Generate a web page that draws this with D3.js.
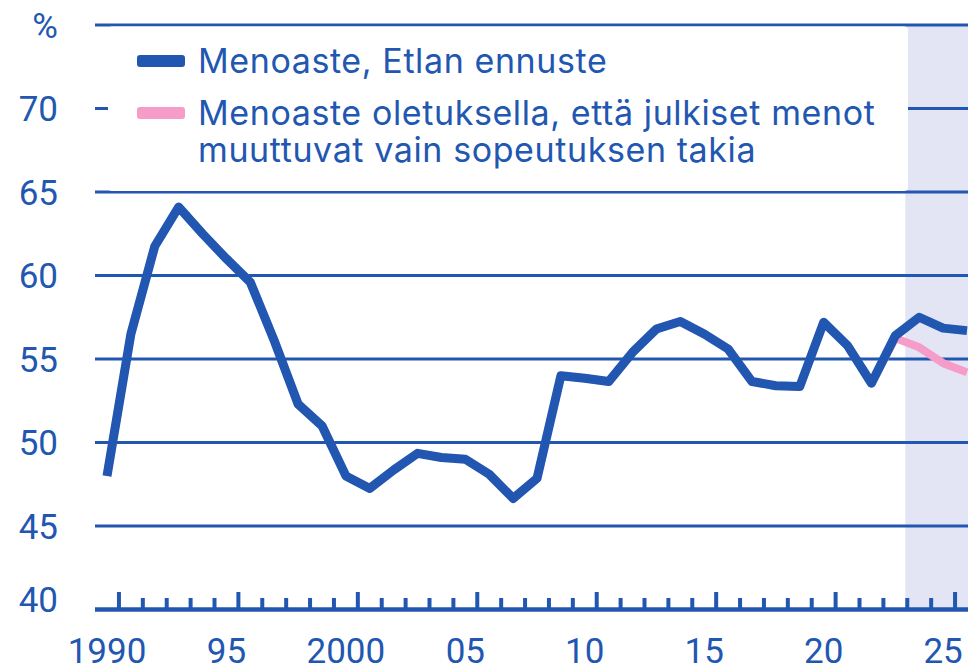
<!DOCTYPE html>
<html>
<head>
<meta charset="utf-8">
<script src="https://cdn.jsdelivr.net/npm/d3@7"></script>
<style>
  body { margin: 0; background: #fff; }
  text { font-family: Roboto, "Noto Sans", sans-serif; fill: #2257b1; }
  .legend text { font-family: Inter, Roboto, sans-serif; letter-spacing: 0.6px; }
</style>
</head>
<body>
<div class="chart"></div>
<script>
// years shown
const years = d3.range(1990, 2027);

// expenditure ratio, Etla forecast (% of GDP)
const menoaste = [48.0, 56.5, 61.75, 64.1, 62.5, 61.0, 59.6, 56.1, 52.3, 51.0,
  48.0, 47.25, 48.35, 49.35, 49.1, 49.0, 48.1, 46.65, 47.85, 54.0,
  53.85, 53.65, 55.4, 56.8, 57.25, 56.5, 55.6, 53.65, 53.4, 53.35,
  57.2, 55.8, 53.55, 56.4, 57.5, 56.85, 56.7];

// expenditure ratio if spending only changes by adjustment
const oletus = [48.0, 56.5, 61.75, 64.1, 62.5, 61.0, 59.6, 56.1, 52.3, 51.0,
  48.0, 47.25, 48.35, 49.35, 49.1, 49.0, 48.1, 46.65, 47.85, 54.0,
  53.85, 53.65, 55.4, 56.8, 57.25, 56.5, 55.6, 53.65, 53.4, 53.35,
  57.2, 55.8, 53.55, 56.25, 55.7, 54.75, 54.2];

const yTicks = [40, 45, 50, 55, 60, 65, 70, 75];
const xLabels = ["1990", "95", "2000", "05", "10", "15", "20", "25"];
const forecastStart = 2023.5;

const legendItems = [
  {color: "#2257b1", lines: ["Menoaste, Etlan ennuste"]},
  {color: "#f59cc8", lines: ["Menoaste oletuksella, että julkiset menot", "muuttuvat vain sopeutuksen takia"]}
];

const width = 968, height = 668;
const blue = "#2257b1";

const svg = d3.select('.chart')
  .append('svg')
  .attr('width', width)
  .attr('height', height);

const x = d3.scaleLinear().domain([1990, 2026]).range([107, 967]);
const y = d3.scaleLinear().domain([40, 75]).range([609.5, 25]);

// forecast shading
svg.append('rect')
  .attr('x', x(forecastStart) - 2)
  .attr('y', y(75))
  .attr('width', width - x(forecastStart) + 2)
  .attr('height', y(40) - y(75))
  .attr('fill', '#e3e5f4');

// gridlines
svg.selectAll('.grid')
  .data(yTicks.filter(d => d > 40))
  .enter()
  .append('line')
  .attr('class', 'grid')
  .attr('x1', 95)
  .attr('x2', width)
  .attr('y1', d => y(d))
  .attr('y2', d => y(d))
  .attr('stroke', blue)
  .attr('stroke-width', 3);

// y labels (bottom one sits a bit above the axis line)
svg.selectAll('.ylab')
  .data(yTicks)
  .enter()
  .append('text')
  .attr('class', 'ylab')
  .attr('x', 58)
  .attr('y', d => y(d) + 12.5 - (d == 40 ? 10 : 0))
  .attr('text-anchor', 'end')
  .style('font-size', '35px')
  .text(d => d == 75 ? '%' : d);

// legend box
svg.append('rect')
  .attr('x', 108)
  .attr('y', 26.5)
  .attr('width', 908 - 108)
  .attr('height', 191 - 26.5)
  .attr('rx', 4)
  .attr('fill', '#fff');

const legend = svg.selectAll('.legend')
  .data(legendItems)
  .enter()
  .append('g')
  .attr('class', 'legend')
  .attr('transform', (d, i) => `translate(137, ${61 + i * 52})`);

legend.append('rect')
  .attr('x', 0)
  .attr('y', -6)
  .attr('width', 48)
  .attr('height', 12)
  .attr('rx', 3)
  .attr('fill', d => d.color);

legend.each(function(d) {
  const t = d3.select(this).append('text')
    .attr('x', 61)
    .attr('y', 12)
    .style('font-size', '34px');
  d.lines.forEach((l, i) => {
    t.append('tspan').attr('x', 61).attr('dy', i == 0 ? 0 : 37).text(l);
  });
});

// lines
const line = d3.line()
  .x((d, i) => x(years[i]))
  .y(d => y(d));

svg.append('path')
  .datum(oletus)
  .attr('fill', 'none')
  .attr('stroke', '#f59cc8')
  .attr('stroke-width', 8)
  .attr('stroke-linejoin', 'round')
  .attr('d', line);

svg.append('path')
  .datum(menoaste)
  .attr('fill', 'none')
  .attr('stroke', blue)
  .attr('stroke-width', 9)
  .attr('stroke-linejoin', 'round')
  .attr('d', line);

// x axis line and ticks
svg.append('line')
  .attr('x1', 95)
  .attr('x2', width)
  .attr('y1', 609.5)
  .attr('y2', 609.5)
  .attr('stroke', blue)
  .attr('stroke-width', 4.5);

svg.selectAll('.xtick')
  .data(years.slice(0, -1))
  .enter()
  .append('line')
  .attr('class', 'xtick')
  .attr('x1', d => x(d + 0.5))
  .attr('x2', d => x(d + 0.5))
  .attr('y1', 609)
  .attr('y2', d => d % 5 == 0 ? 592 : 598)
  .attr('stroke', blue)
  .attr('stroke-width', 4);

svg.selectAll('.xlab')
  .data(xLabels)
  .enter()
  .append('text')
  .attr('class', 'xlab')
  .attr('x', (d, i) => x(1990 + i * 5))
  .attr('y', 663)
  .attr('text-anchor', 'middle')
  .style('font-size', '35px')
  .text(d => d);
</script>
</body>
</html>
